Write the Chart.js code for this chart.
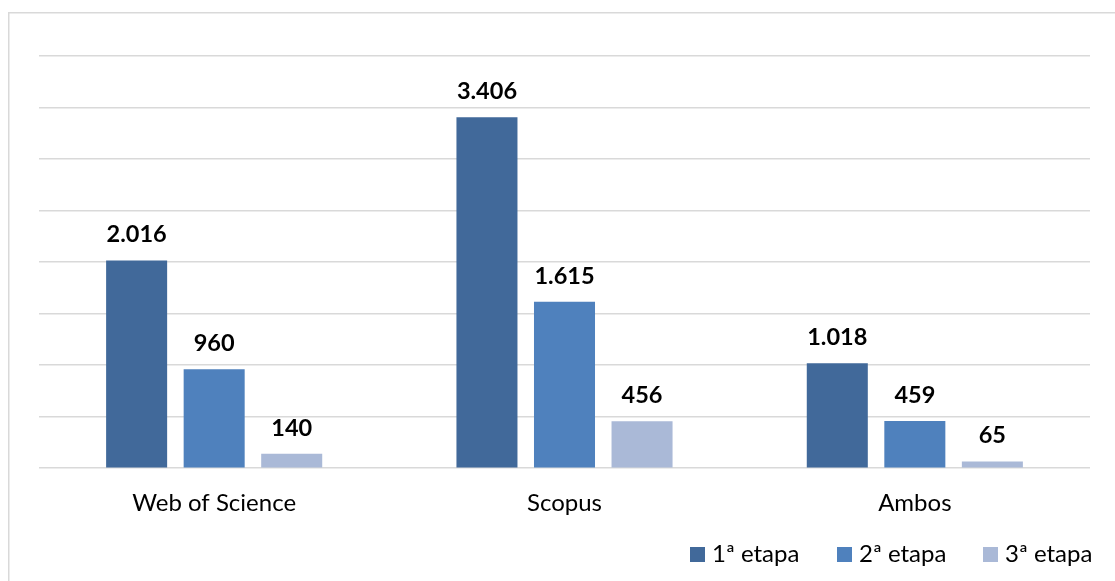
<!DOCTYPE html>
<html>
<head>
<meta charset="utf-8">
<script src="https://cdn.jsdelivr.net/npm/chart.js@4.4.1/dist/chart.umd.min.js"></script>
<style>
  html, body { margin: 0; padding: 0; background: #ffffff; }
  #wrap { position: relative; width: 1115px; height: 581px; }
  canvas { display: block; }
</style>
</head>
<body>
<div id="wrap"><canvas id="c" width="1115" height="581"></canvas></div>
<script>
const categories = ["Web of Science", "Scopus", "Ambos"];
const seriesNames = ["1ª etapa", "2ª etapa", "3ª etapa"];
const etapa1 = [2016, 3406, 1018];
const etapa2 = [960, 1615, 459];
const etapa3 = [140, 456, 65];
const yTicks = [0, 500, 1000, 1500, 2000, 2500, 3000, 3500, 4000];

const colors = ["#41699A", "#4F81BD", "#AAB9D7"];
const FONT = "Lato, 'Open Sans', sans-serif";

function fmt(v) {
  return String(v).replace(/\B(?=(\d{3})+(?!\d))/g, ".");
}

const frame = {
  id: "frame",
  beforeDraw(chart) {
    const ctx = chart.ctx;
    ctx.save();
    ctx.strokeStyle = "#D9D9D9";
    ctx.lineWidth = 1.5;
    ctx.strokeRect(8.75, 12.75, 1200, 700);
    ctx.restore();
  }
};

const labels = {
  id: "valueLabels",
  afterDatasetsDraw(chart) {
    const ctx = chart.ctx;
    ctx.save();
    ctx.font = "bold 23.5px " + FONT;
    ctx.fillStyle = "#000000";
    ctx.textAlign = "center";
    ctx.textBaseline = "bottom";
    chart.data.datasets.forEach((ds, i) => {
      chart.getDatasetMeta(i).data.forEach((bar, j) => {
        ctx.fillText(fmt(ds.data[j]), bar.x, bar.y - 14);
      });
    });
    ctx.restore();
  }
};

// Legend drawn from the dataset labels / colours, positioned like the original
const legendPlugin = {
  id: "customLegend",
  afterDraw(chart) {
    const ctx = chart.ctx;
    const startX = [690, 837, 983];
    const boxY = 547, box = 15;
    ctx.save();
    ctx.font = "24px " + FONT;
    ctx.textAlign = "left";
    ctx.textBaseline = "middle";
    chart.data.datasets.forEach((ds, i) => {
      ctx.fillStyle = ds.backgroundColor;
      ctx.fillRect(startX[i], boxY, box, box);
      ctx.fillStyle = "#000000";
      ctx.fillText(ds.label, startX[i] + box + 7, boxY + box / 2);
    });
    ctx.restore();
  }
};

new Chart(document.getElementById("c"), {
  type: "bar",
  data: {
    labels: categories,
    datasets: [
      { label: seriesNames[0], data: etapa1, backgroundColor: colors[0] },
      { label: seriesNames[1], data: etapa2, backgroundColor: colors[1] },
      { label: seriesNames[2], data: etapa3, backgroundColor: colors[2] }
    ]
  },
  options: {
    responsive: false,
    animation: false,
    devicePixelRatio: 1,
    layout: { padding: { left: 39, right: 25, top: 56, bottom: 50 } },
    datasets: { bar: { categoryPercentage: 0.664, barPercentage: 0.787 } },
    scales: {
      x: {
        grid: { display: false },
        border: { display: false },
        ticks: { color: "#000000", font: { family: FONT, size: 24 }, padding: 13 }
      },
      y: {
        min: 0, max: 4000,
        afterBuildTicks(scale) { scale.ticks = yTicks.map(v => ({ value: v })); },
        afterFit(scale) { scale.width = 0; },
        grid: { color: "#D9D9D9", lineWidth: 1.5, drawTicks: false },
        border: { display: false },
        ticks: { display: false }
      }
    },
    plugins: {
      legend: { display: false },
      tooltip: { enabled: false }
    }
  },
  plugins: [frame, labels, legendPlugin]
});
</script>
</body>
</html>
